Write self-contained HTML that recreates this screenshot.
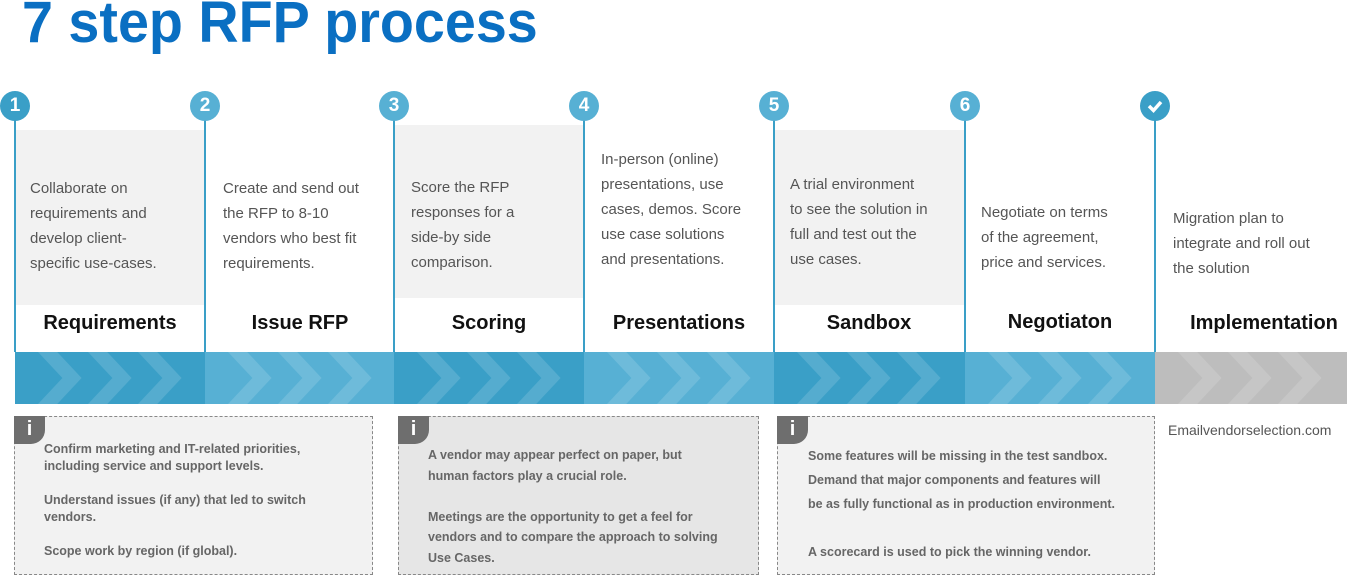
<!DOCTYPE html>
<html><head><meta charset="utf-8"><style>
*{margin:0;padding:0;box-sizing:border-box}
body{width:1358px;height:585px;background:#fff;position:relative;overflow:hidden;font-family:"Liberation Sans",sans-serif}
.abs{position:absolute}
.title{left:22px;top:-11px;font-size:58px;font-weight:bold;color:#0a6fc2;transform:scaleX(0.96);transform-origin:left top;white-space:nowrap}
.gray{background:#f2f2f2}
.vl{width:2px;background:#3a9fc7}
.circ{width:30px;height:30px;border-radius:50%;background:#3a9fc7;color:#fff;font-weight:bold;font-size:19px;text-align:center;line-height:30px}
.desc{font-size:15px;color:#555;line-height:25px}
.lab{font-size:20px;font-weight:bold;color:#111;text-align:center;width:190px}
.box{border:1px dashed #888;background:#f2f2f2}
.tab{width:31px;height:28px;background:#6e6e6e;border-radius:0 0 14px 0;color:#fff;font-weight:bold;font-size:20px;text-align:center;line-height:26px;left:-1px;top:-1px}
.info{font-size:12.5px;font-weight:bold;color:#666;line-height:17px}
</style></head><body>
<div class="abs title">7 step RFP process</div>

<div class="abs gray" style="left:15px;top:130px;width:190px;height:175px"></div>
<div class="abs gray" style="left:394px;top:125px;width:190px;height:173px"></div>
<div class="abs gray" style="left:774px;top:130px;width:191px;height:175px"></div>

<svg class="abs" style="left:0;top:352px" width="1358" height="52">
<rect x="15" y="0" width="190" height="52" fill="#3a9fc7"/>
<rect x="205" y="0" width="189" height="52" fill="#57b0d4"/>
<rect x="394" y="0" width="190" height="52" fill="#3a9fc7"/>
<rect x="584" y="0" width="190" height="52" fill="#57b0d4"/>
<rect x="774" y="0" width="191" height="52" fill="#3a9fc7"/>
<rect x="965" y="0" width="190" height="52" fill="#57b0d4"/>
<rect x="1155" y="0" width="192" height="52" fill="#bdbdbd"/>
<g fill="none" stroke="rgba(255,255,255,0.14)" stroke-width="14">
<path id="ch" d="M42,-6 L72,26 L42,58 M92,-6 L122,26 L92,58 M142,-6 L172,26 L142,58"/>
<use href="#ch" x="190"/><use href="#ch" x="379"/><use href="#ch" x="569"/><use href="#ch" x="759"/><use href="#ch" x="950"/><use href="#ch" x="1140"/>
</g>
</svg>

<div class="abs vl" style="left:14px;top:106px;height:246px"></div>
<div class="abs vl" style="left:204px;top:106px;height:246px"></div>
<div class="abs vl" style="left:393px;top:106px;height:246px"></div>
<div class="abs vl" style="left:583px;top:106px;height:246px"></div>
<div class="abs vl" style="left:773px;top:106px;height:246px"></div>
<div class="abs vl" style="left:964px;top:106px;height:246px"></div>
<div class="abs vl" style="left:1154px;top:106px;height:246px"></div>

<div class="abs circ" style="left:0px;top:91px">1</div>
<div class="abs circ" style="left:190px;top:91px;background:#57b0d4">2</div>
<div class="abs circ" style="left:379px;top:91px;background:#57b0d4">3</div>
<div class="abs circ" style="left:569px;top:91px;background:#57b0d4">4</div>
<div class="abs circ" style="left:759px;top:91px;background:#57b0d4">5</div>
<div class="abs circ" style="left:950px;top:91px;background:#57b0d4">6</div>
<div class="abs circ" style="left:1140px;top:91px;width:30px;height:30px">
<svg width="30" height="30"><path d="M9,15 L13.5,19.5 L21,11" stroke="#fff" stroke-width="3.5" fill="none"/></svg></div>

<div class="abs desc" style="left:30px;top:176px">Collaborate on<br>requirements and<br>develop client-<br>specific use-cases.</div>
<div class="abs desc" style="left:223px;top:176px">Create and send out<br>the RFP to 8-10<br>vendors who best fit<br>requirements.</div>
<div class="abs desc" style="left:411px;top:175px">Score the RFP<br>responses for a<br>side-by side<br>comparison.</div>
<div class="abs desc" style="left:601px;top:147px">In-person (online)<br>presentations, use<br>cases, demos. Score<br>use case solutions<br>and presentations.</div>
<div class="abs desc" style="left:790px;top:172px">A trial environment<br>to see the solution in<br>full and test out the<br>use cases.</div>
<div class="abs desc" style="left:981px;top:200px">Negotiate on terms<br>of the agreement,<br>price and services.</div>
<div class="abs desc" style="left:1173px;top:206px">Migration plan to<br>integrate and roll out<br>the solution</div>

<div class="abs lab" style="left:15px;top:312px">Requirements</div>
<div class="abs lab" style="left:205px;top:312px">Issue RFP</div>
<div class="abs lab" style="left:394px;top:312px">Scoring</div>
<div class="abs lab" style="left:584px;top:312px">Presentations</div>
<div class="abs lab" style="left:774px;top:312px">Sandbox</div>
<div class="abs lab" style="left:965px;top:311px">Negotiaton</div>
<div class="abs lab" style="left:1168px;top:312px;width:192px">Implementation</div>

<div class="abs box" style="left:14px;top:416px;width:359px;height:159px">
<div class="abs tab">i</div>
<div class="abs info" style="left:29px;top:24px">Confirm marketing and IT-related priorities,<br>including service and support levels.<br><br>Understand issues (if any) that led to switch<br>vendors.<br><br>Scope work by region (if global).</div>
</div>
<div class="abs box" style="left:398px;top:416px;width:361px;height:159px;background:#e6e6e6">
<div class="abs tab">i</div>
<div class="abs info" style="left:29px;top:28px;line-height:20.5px">A vendor may appear perfect on paper, but<br>human factors play a crucial role.<br><br>Meetings are the opportunity to get a feel for<br>vendors and to compare the approach to solving<br>Use Cases.</div>
</div>
<div class="abs box" style="left:777px;top:416px;width:378px;height:159px">
<div class="abs tab">i</div>
<div class="abs info" style="left:30px;top:27px;line-height:24px">Some features will be missing in the test sandbox.<br>Demand that major components and features will<br>be as fully functional as in production environment.<br><br>A scorecard is used to pick the winning vendor.</div>
</div>
<div class="abs" style="left:1168px;top:422px;font-size:14px;color:#555">Emailvendorselection.com</div>
</body></html>
